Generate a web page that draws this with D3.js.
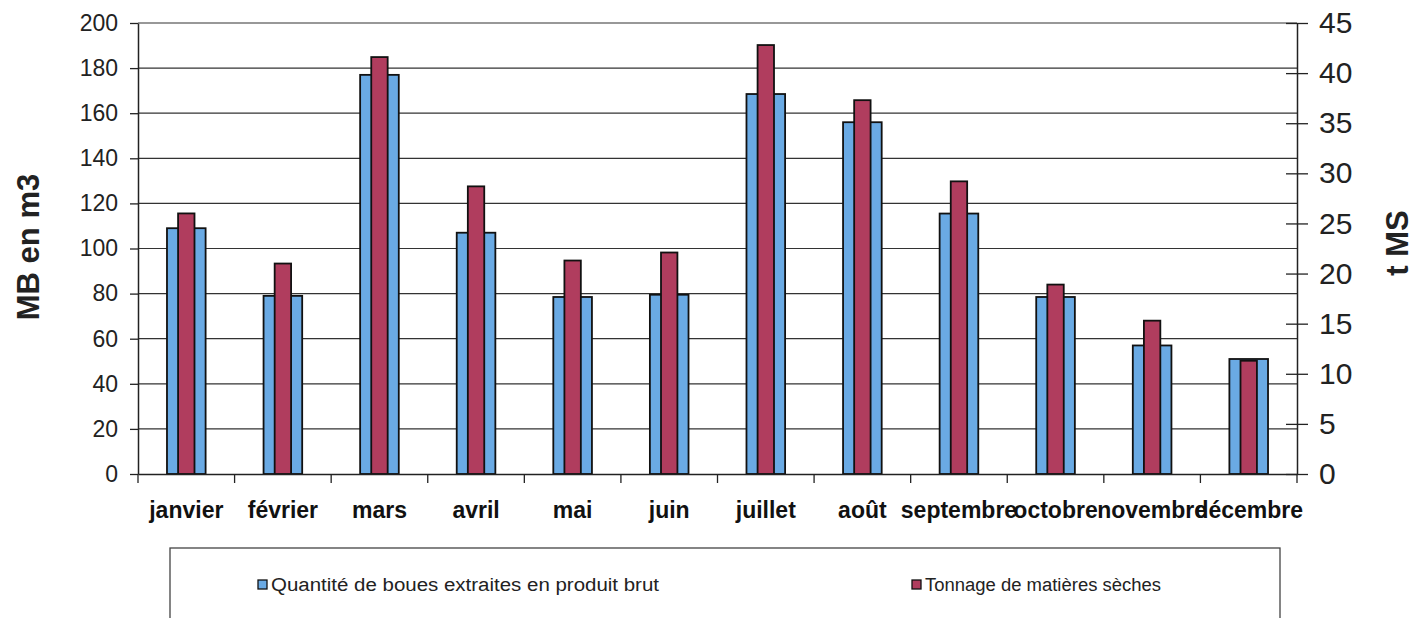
<!DOCTYPE html>
<html>
<head>
<meta charset="utf-8">
<script src="https://cdn.jsdelivr.net/npm/d3@7"></script>
<style>
  html, body { margin: 0; padding: 0; background: #fff; }
  svg { display: block; font-family: "Liberation Sans", Arial, sans-serif; }
</style>
</head>
<body>
<svg id="chart" width="1417" height="618"></svg>
<script>
const months = ["janvier", "février", "mars", "avril", "mai", "juin", "juillet", "août", "septembre", "octobre", "novembre", "décembre"];
const boues = [109, 79, 177, 107, 78.5, 79.5, 168.5, 156, 115.5, 78.5, 57, 51];
const matieresSeches = [26, 21, 41.6, 28.7, 21.3, 22.1, 42.8, 37.3, 29.2, 18.9, 15.3, 11.3];
const leftTicks = [0, 20, 40, 60, 80, 100, 120, 140, 160, 180, 200];
const rightTicks = [0, 5, 10, 15, 20, 25, 30, 35, 40, 45];
const seriesNames = ["Quantité de boues extraites en produit brut", "Tonnage de matières sèches"];
const leftTitle = "MB en m3";
const rightTitle = "t MS";

const svg = d3.select("#chart");
const m = { left: 138, right: 1297, top: 23, bottom: 474 };
const blue = "#6aaae4", red = "#b03d5e";

const x = d3.scaleBand().domain(months).range([m.left, m.right]).paddingInner(0).paddingOuter(0);
const yL = d3.scaleLinear().domain([0, 200]).range([m.bottom, m.top]);
const yR = d3.scaleLinear().domain([0, 45]).range([m.bottom, m.top]);

// gridlines
svg.append("g").selectAll("line").data(leftTicks.filter(d => d > 0)).join("line")
  .attr("x1", m.left).attr("x2", m.right)
  .attr("y1", d => yL(d)).attr("y2", d => yL(d))
  .attr("stroke", "#333").attr("stroke-width", 1.2);

// bars
const bw = x.bandwidth() * 0.4, rw = x.bandwidth() * 0.17;
svg.append("g").selectAll("rect").data(months).join("rect")
  .attr("x", d => x(d) + x.bandwidth() / 2 - bw / 2)
  .attr("width", bw)
  .attr("y", (d, i) => yL(boues[i]))
  .attr("height", (d, i) => yL(0) - yL(boues[i]))
  .attr("fill", blue).attr("stroke", "#111").attr("stroke-width", 1.8);
svg.append("g").selectAll("rect").data(months).join("rect")
  .attr("x", d => x(d) + x.bandwidth() / 2 - rw / 2)
  .attr("width", rw)
  .attr("y", (d, i) => yR(matieresSeches[i]))
  .attr("height", (d, i) => yR(0) - yR(matieresSeches[i]))
  .attr("fill", red).attr("stroke", "#111").attr("stroke-width", 1.8);

// left axis
const gl = svg.append("g").attr("transform", `translate(${m.left},0)`)
  .call(d3.axisLeft(yL).tickValues(leftTicks).tickSize(8).tickPadding(12).tickSizeOuter(0));
gl.select(".domain").attr("stroke", "#222").attr("stroke-width", 1.5);
gl.selectAll(".tick line").attr("stroke", "#222").attr("stroke-width", 1.3);
gl.selectAll(".tick text").attr("font-size", 23).attr("fill", "#222").attr("font-family", "Liberation Sans, Arial, sans-serif");

// right axis
const gr = svg.append("g").attr("transform", `translate(${m.right},0)`)
  .call(d3.axisRight(yR).tickValues(rightTicks).tickSize(11).tickPadding(11).tickSizeOuter(0));
gr.select(".domain").attr("stroke", "#222").attr("stroke-width", 1.5);
gr.selectAll(".tick line").attr("stroke", "#222").attr("stroke-width", 1.3).attr("x1", -11);
gr.selectAll(".tick text").attr("font-size", 30).attr("fill", "#222").attr("font-family", "Liberation Sans, Arial, sans-serif");

// bottom axis
const gb = svg.append("g").attr("transform", `translate(0,${m.bottom})`)
  .call(d3.axisBottom(x).tickSize(0).tickPadding(28));
gb.select(".domain").attr("stroke", "#222").attr("stroke-width", 1.5);
gb.selectAll(".tick text").attr("font-size", 23).attr("font-weight", "bold").attr("fill", "#111")
  .attr("font-family", "Liberation Sans, Arial, sans-serif");
svg.append("g").selectAll("line").data(months).join("line")
  .attr("x1", d => x(d) + x.bandwidth()).attr("x2", d => x(d) + x.bandwidth())
  .attr("y1", m.bottom).attr("y2", m.bottom + 9)
  .attr("stroke", "#222").attr("stroke-width", 1.3);
svg.append("line").attr("x1", m.left).attr("x2", m.left).attr("y1", m.bottom).attr("y2", m.bottom + 9)
  .attr("stroke", "#222").attr("stroke-width", 1.3);

// axis titles
svg.append("text").attr("transform", "translate(39,247) rotate(-90)")
  .attr("text-anchor", "middle").attr("font-size", 31).attr("font-weight", "bold").attr("fill", "#222")
  .text(leftTitle);
svg.append("text").attr("transform", "translate(1408,243) rotate(-90)")
  .attr("text-anchor", "middle").attr("font-size", 31).attr("font-weight", "bold").attr("fill", "#222")
  .text(rightTitle);

// legend
svg.append("rect").attr("x", 170).attr("y", 548).attr("width", 1110).attr("height", 90)
  .attr("fill", "none").attr("stroke", "#444").attr("stroke-width", 1.3);
const legItems = [
  { name: seriesNames[0], color: blue, x: 258, len: 388 },
  { name: seriesNames[1], color: red, x: 912, len: 236 }
];
const lg = svg.append("g").selectAll("g").data(legItems).join("g");
lg.append("rect").attr("x", d => d.x).attr("y", 580).attr("width", 9).attr("height", 9)
  .attr("fill", d => d.color).attr("stroke", "#111").attr("stroke-width", 1.3);
lg.append("text").attr("x", d => d.x + 13).attr("y", 591)
  .attr("font-size", 18).attr("fill", "#222")
  .attr("textLength", d => d.len).attr("lengthAdjust", "spacingAndGlyphs")
  .text(d => d.name);
</script>
</body>
</html>
